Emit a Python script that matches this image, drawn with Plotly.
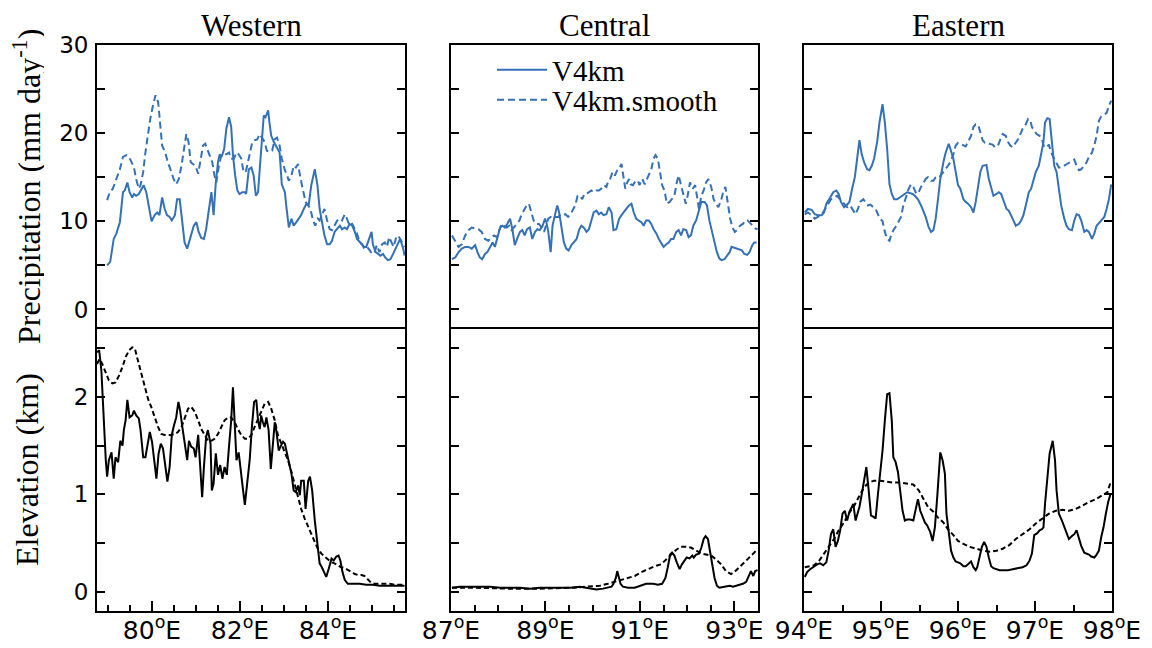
import numpy as np
import plotly.graph_objects as go

# ---------------- data: precipitation (mm/day) ----------------
W_PR_LON = [78.98, 79.05, 79.13, 79.19, 79.27, 79.34, 79.38, 79.44, 79.49, 79.55, 79.59, 79.64, 79.70, 79.76, 79.81, 79.87, 79.93, 79.99, 80.06, 80.12, 80.17, 80.23, 80.29, 80.34, 80.40, 80.45, 80.52, 80.57, 80.63, 80.69, 80.74, 80.80, 80.86, 80.91, 80.95, 81.01, 81.06, 81.12, 81.18, 81.23, 81.29, 81.35, 81.40, 81.45, 81.50, 81.54, 81.58, 81.64, 81.69, 81.75, 81.80, 81.84, 81.89, 81.94, 81.99, 82.05, 82.11, 82.14, 82.20, 82.26, 82.31, 82.36, 82.41, 82.46, 82.51, 82.54, 82.58, 82.64, 82.67, 82.71, 82.77, 82.81, 82.86, 82.90, 82.95, 83.02, 83.05, 83.11, 83.17, 83.22, 83.28, 83.34, 83.39, 83.45, 83.51, 83.56, 83.62, 83.70, 83.76, 83.81, 83.86, 83.92, 83.98, 84.04, 84.09, 84.15, 84.20, 84.27, 84.32, 84.38, 84.43, 84.49, 84.55, 84.61, 84.66, 84.72, 84.77, 84.82, 84.87, 84.92, 84.99, 85.02, 85.08, 85.14, 85.19, 85.25, 85.30, 85.36, 85.42, 85.48, 85.54, 85.59, 85.64, 85.71, 85.74]
W_PR = [5.0, 5.4, 8.0, 8.6, 9.9, 13.3, 13.5, 14.4, 13.3, 12.7, 13.1, 12.9, 13.1, 13.7, 14.1, 13.3, 11.8, 10.0, 10.7, 11.0, 10.7, 12.7, 11.4, 10.7, 10.5, 10.1, 10.7, 12.5, 12.5, 10.1, 7.6, 6.9, 8.0, 9.0, 9.5, 9.9, 8.8, 8.1, 8.0, 9.1, 11.4, 13.3, 10.7, 14.4, 16.7, 17.6, 17.3, 18.2, 20.5, 21.8, 20.7, 17.5, 15.2, 13.5, 13.1, 13.3, 13.3, 13.1, 15.9, 16.1, 15.2, 12.9, 13.3, 16.3, 19.7, 22.0, 21.8, 22.6, 21.2, 19.7, 19.0, 18.6, 18.2, 17.8, 14.2, 13.3, 11.8, 9.3, 10.3, 9.5, 9.9, 10.3, 10.7, 11.4, 12.0, 11.8, 14.1, 15.9, 14.1, 11.4, 9.9, 8.4, 7.4, 7.4, 7.8, 8.8, 9.1, 9.5, 9.1, 9.3, 9.1, 9.7, 9.5, 8.8, 8.0, 7.6, 7.4, 7.1, 7.1, 7.8, 8.8, 7.4, 6.5, 6.3, 6.1, 6.3, 5.9, 5.6, 5.7, 6.3, 6.9, 7.4, 8.0, 6.9, 6.1]
W_PRS_LON = [78.98, 79.04, 79.11, 79.19, 79.27, 79.34, 79.42, 79.48, 79.53, 79.59, 79.64, 79.70, 79.74, 79.80, 79.85, 79.91, 79.96, 80.02, 80.08, 80.14, 80.19, 80.23, 80.30, 80.36, 80.44, 80.49, 80.55, 80.61, 80.67, 80.72, 80.78, 80.83, 80.88, 80.93, 80.99, 81.05, 81.10, 81.16, 81.21, 81.27, 81.33, 81.37, 81.42, 81.46, 81.52, 81.58, 81.63, 81.69, 81.75, 81.80, 81.86, 81.92, 81.97, 82.03, 82.08, 82.13, 82.18, 82.23, 82.28, 82.33, 82.39, 82.45, 82.50, 82.56, 82.61, 82.67, 82.73, 82.79, 82.84, 82.90, 82.95, 83.02, 83.07, 83.11, 83.17, 83.22, 83.27, 83.32, 83.37, 83.43, 83.49, 83.55, 83.60, 83.66, 83.71, 83.77, 83.81, 83.86, 83.92, 83.98, 84.04, 84.09, 84.15, 84.21, 84.27, 84.32, 84.38, 84.43, 84.49, 84.55, 84.61, 84.66, 84.72, 84.77, 84.83, 84.89, 84.95, 85.00, 85.06, 85.11, 85.17, 85.23, 85.29, 85.34, 85.39, 85.44, 85.49, 85.55, 85.59, 85.64, 85.71, 85.74]
W_PRS = [12.4, 13.3, 13.7, 14.8, 15.9, 17.3, 17.5, 17.3, 16.7, 16.1, 14.8, 13.7, 14.1, 15.6, 17.8, 20.1, 21.6, 23.1, 24.3, 23.5, 21.2, 18.6, 17.8, 16.7, 15.6, 14.8, 14.2, 14.8, 16.3, 18.2, 19.9, 19.0, 16.7, 16.5, 16.3, 15.4, 16.7, 18.6, 18.8, 18.0, 17.1, 16.7, 15.2, 14.4, 16.3, 17.6, 17.6, 17.6, 17.8, 17.1, 17.1, 17.8, 17.6, 17.1, 15.6, 15.6, 16.7, 17.8, 19.0, 19.2, 19.3, 19.9, 19.5, 19.0, 18.0, 17.9, 18.0, 19.3, 19.5, 18.6, 17.1, 15.8, 15.2, 14.6, 15.2, 16.3, 16.1, 16.5, 15.0, 13.5, 12.2, 11.8, 11.4, 10.1, 9.5, 10.3, 10.1, 10.7, 11.4, 10.1, 9.1, 9.0, 9.5, 10.1, 10.3, 10.1, 10.8, 10.3, 9.5, 9.7, 9.1, 8.6, 7.6, 7.4, 6.9, 7.1, 6.7, 6.3, 6.5, 7.3, 6.5, 7.4, 7.6, 7.1, 8.2, 7.6, 7.1, 8.2, 8.4, 8.0, 7.4, 7.1]

C_PR_LON = [87.02, 87.09, 87.16, 87.23, 87.30, 87.37, 87.44, 87.51, 87.56, 87.61, 87.66, 87.72, 87.77, 87.83, 87.88, 87.93, 87.98, 88.04, 88.09, 88.14, 88.19, 88.25, 88.30, 88.35, 88.40, 88.46, 88.51, 88.56, 88.61, 88.67, 88.72, 88.78, 88.83, 88.88, 88.94, 88.99, 89.02, 89.06, 89.11, 89.15, 89.20, 89.25, 89.29, 89.34, 89.39, 89.44, 89.49, 89.55, 89.60, 89.66, 89.71, 89.76, 89.81, 89.87, 89.92, 89.97, 90.02, 90.08, 90.13, 90.18, 90.23, 90.29, 90.34, 90.40, 90.44, 90.50, 90.56, 90.61, 90.66, 90.71, 90.77, 90.82, 90.87, 90.92, 90.97, 91.03, 91.08, 91.13, 91.19, 91.24, 91.29, 91.35, 91.40, 91.45, 91.50, 91.56, 91.61, 91.66, 91.71, 91.77, 91.82, 91.87, 91.92, 91.98, 92.03, 92.08, 92.13, 92.19, 92.25, 92.30, 92.37, 92.42, 92.47, 92.53, 92.58, 92.63, 92.68, 92.73, 92.79, 92.84, 92.90, 92.94, 93.00, 93.05, 93.10, 93.16, 93.21, 93.27, 93.32, 93.38, 93.42, 93.47]
C_PR = [5.7, 5.9, 6.5, 6.9, 7.1, 7.1, 6.9, 7.3, 6.5, 5.9, 5.7, 6.3, 6.5, 7.1, 7.6, 7.1, 8.0, 9.3, 9.5, 9.3, 9.7, 10.3, 9.1, 7.3, 8.0, 8.8, 9.0, 8.4, 9.1, 9.3, 8.0, 8.8, 9.1, 9.0, 9.5, 10.3, 9.9, 8.8, 6.5, 9.5, 10.7, 11.8, 11.0, 9.0, 7.6, 6.9, 6.7, 7.3, 7.6, 8.0, 9.0, 9.5, 9.3, 8.8, 9.1, 10.1, 11.0, 11.2, 10.8, 11.0, 10.7, 10.8, 11.6, 11.0, 9.0, 9.1, 10.3, 10.7, 11.0, 11.4, 11.8, 12.0, 11.0, 10.3, 10.1, 9.9, 9.5, 10.1, 10.1, 9.7, 9.1, 8.6, 8.0, 7.6, 7.1, 7.4, 7.6, 8.0, 8.0, 8.8, 9.0, 8.4, 9.1, 9.0, 8.2, 8.4, 9.5, 10.1, 11.4, 12.2, 12.2, 11.8, 10.1, 8.8, 7.6, 6.5, 5.8, 5.6, 5.7, 6.1, 6.5, 7.1, 7.0, 6.9, 6.8, 6.7, 6.3, 6.2, 6.5, 7.3, 7.6, 7.6]
C_PRS_LON = [87.02, 87.09, 87.16, 87.23, 87.30, 87.37, 87.44, 87.51, 87.58, 87.65, 87.72, 87.79, 87.86, 87.91, 87.97, 88.02, 88.07, 88.12, 88.18, 88.23, 88.28, 88.33, 88.39, 88.45, 88.49, 88.54, 88.60, 88.65, 88.71, 88.75, 88.81, 88.86, 88.92, 88.97, 89.01, 89.06, 89.11, 89.16, 89.21, 89.27, 89.32, 89.37, 89.42, 89.48, 89.53, 89.59, 89.63, 89.68, 89.73, 89.78, 89.82, 89.87, 89.92, 89.97, 90.02, 90.08, 90.13, 90.18, 90.23, 90.29, 90.32, 90.37, 90.42, 90.47, 90.52, 90.57, 90.61, 90.64, 90.69, 90.73, 90.77, 90.80, 90.85, 90.91, 90.96, 90.99, 91.05, 91.10, 91.15, 91.19, 91.24, 91.29, 91.33, 91.38, 91.43, 91.47, 91.52, 91.57, 91.63, 91.68, 91.73, 91.78, 91.82, 91.87, 91.92, 91.97, 92.01, 92.06, 92.12, 92.17, 92.20, 92.25, 92.30, 92.35, 92.40, 92.45, 92.51, 92.56, 92.61, 92.66, 92.72, 92.77, 92.81, 92.86, 92.91, 92.96, 93.01, 93.07, 93.12, 93.18, 93.23, 93.28, 93.33, 93.39, 93.44, 93.49]
C_PRS = [8.4, 7.8, 7.1, 7.4, 8.4, 9.0, 9.3, 9.2, 9.1, 8.8, 8.0, 7.8, 8.1, 8.4, 8.2, 9.1, 9.7, 9.5, 9.3, 9.5, 9.0, 9.3, 9.7, 10.1, 10.7, 11.2, 11.8, 12.0, 11.0, 10.1, 9.7, 9.7, 9.3, 8.8, 9.5, 10.3, 10.5, 10.3, 10.5, 10.5, 10.8, 10.7, 10.8, 10.5, 10.8, 11.4, 11.8, 12.9, 12.9, 12.5, 13.1, 13.1, 13.3, 13.5, 13.3, 13.5, 13.5, 13.7, 14.1, 13.9, 14.4, 14.8, 15.6, 15.2, 15.8, 16.1, 16.5, 15.2, 13.7, 14.4, 14.8, 14.2, 14.1, 14.6, 14.6, 14.1, 14.8, 14.2, 14.8, 15.2, 15.9, 17.1, 17.5, 17.1, 15.6, 14.1, 13.5, 12.0, 12.2, 12.5, 12.9, 14.4, 15.2, 14.1, 12.9, 12.0, 12.9, 14.4, 13.7, 14.1, 13.1, 11.4, 12.9, 13.5, 14.4, 14.8, 13.9, 12.5, 12.0, 11.6, 12.4, 13.5, 13.9, 12.2, 10.3, 9.3, 8.8, 9.1, 9.5, 9.7, 10.1, 10.1, 9.8, 9.5, 9.2, 9.1]

E_PR_LON = [94.01, 94.05, 94.10, 94.14, 94.18, 94.23, 94.26, 94.29, 94.34, 94.38, 94.42, 94.45, 94.48, 94.52, 94.55, 94.59, 94.63, 94.66, 94.69, 94.72, 94.75, 94.78, 94.82, 94.85, 94.88, 94.91, 94.95, 94.98, 95.02, 95.05, 95.08, 95.11, 95.14, 95.17, 95.21, 95.24, 95.27, 95.30, 95.34, 95.38, 95.41, 95.44, 95.48, 95.52, 95.55, 95.58, 95.62, 95.65, 95.68, 95.71, 95.74, 95.77, 95.81, 95.84, 95.88, 95.90, 95.94, 95.97, 96.00, 96.03, 96.07, 96.10, 96.13, 96.17, 96.20, 96.23, 96.26, 96.29, 96.32, 96.37, 96.40, 96.43, 96.46, 96.50, 96.53, 96.56, 96.59, 96.63, 96.66, 96.69, 96.72, 96.75, 96.79, 96.82, 96.85, 96.88, 96.92, 96.95, 96.98, 97.01, 97.05, 97.08, 97.11, 97.13, 97.16, 97.19, 97.22, 97.25, 97.28, 97.31, 97.34, 97.38, 97.41, 97.44, 97.48, 97.51, 97.54, 97.57, 97.60, 97.64, 97.67, 97.70, 97.74, 97.77, 97.80, 97.83, 97.86, 97.90, 97.93, 97.96, 97.99]
E_PR = [11.0, 11.4, 11.3, 10.8, 10.7, 10.7, 11.0, 12.0, 12.7, 13.3, 13.5, 13.1, 12.2, 11.6, 11.8, 12.2, 13.9, 15.0, 17.1, 19.2, 17.6, 16.7, 15.9, 15.8, 16.3, 17.1, 19.0, 21.2, 23.3, 21.2, 18.2, 14.2, 13.1, 12.5, 12.5, 12.7, 12.9, 13.1, 13.3, 13.2, 13.1, 12.9, 12.5, 11.8, 11.2, 10.5, 9.3, 8.8, 9.0, 10.3, 12.5, 14.8, 16.7, 17.8, 18.8, 18.2, 17.1, 15.6, 14.1, 13.7, 12.5, 12.2, 12.0, 11.6, 11.0, 12.2, 14.1, 15.6, 16.3, 16.4, 14.8, 13.7, 12.9, 13.1, 13.3, 13.1, 12.4, 11.4, 11.2, 10.7, 10.1, 9.5, 9.7, 10.1, 10.7, 11.8, 13.3, 13.7, 14.6, 15.6, 16.3, 17.5, 19.0, 21.2, 21.7, 21.6, 19.0, 16.3, 15.6, 13.7, 11.8, 10.3, 9.5, 9.1, 9.0, 10.1, 10.8, 10.7, 10.1, 8.8, 9.0, 8.8, 8.0, 8.6, 9.5, 9.8, 10.1, 10.5, 11.4, 12.5, 14.2]
E_PRS_LON = [94.01, 94.05, 94.10, 94.14, 94.18, 94.23, 94.26, 94.30, 94.35, 94.39, 94.43, 94.47, 94.50, 94.53, 94.56, 94.60, 94.63, 94.67, 94.70, 94.73, 94.77, 94.80, 94.83, 94.86, 94.90, 94.93, 94.96, 94.99, 95.02, 95.05, 95.08, 95.11, 95.13, 95.16, 95.20, 95.23, 95.26, 95.29, 95.32, 95.36, 95.39, 95.42, 95.46, 95.49, 95.52, 95.55, 95.58, 95.61, 95.65, 95.68, 95.71, 95.74, 95.77, 95.81, 95.84, 95.87, 95.90, 95.94, 95.97, 96.00, 96.03, 96.07, 96.10, 96.13, 96.17, 96.20, 96.23, 96.26, 96.29, 96.32, 96.35, 96.39, 96.42, 96.45, 96.48, 96.52, 96.55, 96.58, 96.62, 96.65, 96.68, 96.71, 96.74, 96.78, 96.81, 96.84, 96.88, 96.91, 96.94, 96.96, 96.99, 97.02, 97.06, 97.09, 97.12, 97.15, 97.18, 97.21, 97.25, 97.28, 97.31, 97.34, 97.38, 97.41, 97.44, 97.48, 97.51, 97.54, 97.57, 97.60, 97.64, 97.67, 97.70, 97.74, 97.77, 97.80, 97.83, 97.86, 97.90, 97.93, 97.96, 97.99]
E_PRS = [10.8, 11.0, 10.7, 10.3, 10.5, 10.8, 11.2, 11.8, 12.5, 12.7, 12.9, 12.5, 12.2, 11.8, 11.6, 11.8, 11.4, 10.8, 11.4, 12.2, 12.5, 12.2, 11.8, 11.9, 11.6, 11.4, 10.8, 10.3, 10.0, 8.8, 8.0, 7.8, 8.4, 9.0, 9.5, 10.1, 10.5, 11.8, 12.7, 13.7, 14.2, 13.9, 13.1, 13.3, 13.9, 14.4, 14.8, 15.0, 14.6, 14.6, 15.0, 15.2, 15.1, 15.6, 15.9, 16.3, 16.7, 17.6, 18.6, 18.9, 18.8, 18.6, 18.5, 19.0, 19.7, 20.7, 21.0, 21.0, 20.1, 19.2, 18.9, 18.8, 18.8, 18.7, 18.4, 18.6, 19.3, 19.9, 19.7, 19.0, 18.6, 18.4, 18.8, 19.3, 19.9, 20.5, 21.0, 21.6, 21.4, 20.7, 20.3, 19.9, 19.7, 19.3, 18.4, 18.4, 18.7, 17.8, 17.1, 16.5, 16.1, 16.1, 16.3, 16.5, 16.6, 16.8, 17.0, 16.3, 15.8, 15.9, 16.3, 16.7, 17.3, 17.8, 18.6, 19.7, 21.4, 21.9, 22.1, 22.3, 23.1, 23.7]

# ---------------- data: elevation (km) ----------------
W_EL_LON = [78.75, 78.80, 78.85, 78.90, 78.95, 78.98, 79.02, 79.08, 79.13, 79.17, 79.23, 79.28, 79.33, 79.36, 79.40, 79.44, 79.49, 79.55, 79.59, 79.64, 79.70, 79.74, 79.80, 79.85, 79.89, 79.95, 80.00, 80.05, 80.10, 80.15, 80.20, 80.25, 80.30, 80.35, 80.40, 80.45, 80.50, 80.55, 80.60, 80.64, 80.69, 80.74, 80.80, 80.84, 80.89, 80.95, 80.99, 81.05, 81.08, 81.14, 81.18, 81.23, 81.27, 81.33, 81.36, 81.40, 81.45, 81.50, 81.55, 81.60, 81.65, 81.70, 81.75, 81.80, 81.84, 81.88, 81.92, 81.97, 82.02, 82.07, 82.11, 82.17, 82.22, 82.27, 82.32, 82.37, 82.41, 82.45, 82.48, 82.52, 82.56, 82.60, 82.65, 82.70, 82.75, 82.79, 82.83, 82.88, 82.92, 82.98, 83.02, 83.07, 83.11, 83.17, 83.22, 83.27, 83.32, 83.36, 83.39, 83.45, 83.49, 83.55, 83.59, 83.64, 83.70, 83.75, 83.81, 83.86, 83.91, 83.96, 84.02, 84.08, 84.13, 84.19, 84.24, 84.28, 84.33, 84.38, 84.45, 84.57, 84.72, 84.87, 85.02, 85.17, 85.33, 85.48, 85.63, 85.74]
W_EL = [2.46, 2.48, 2.27, 1.76, 1.35, 1.18, 1.35, 1.43, 1.16, 1.38, 1.33, 1.55, 1.50, 1.66, 1.76, 1.97, 1.79, 1.81, 1.86, 1.81, 1.78, 1.66, 1.38, 1.38, 1.49, 1.64, 1.54, 1.32, 1.16, 1.42, 1.52, 1.47, 1.32, 1.13, 1.28, 1.61, 1.71, 1.79, 1.95, 1.86, 1.69, 1.52, 1.35, 1.55, 1.49, 1.47, 1.38, 1.61, 1.42, 0.97, 1.28, 1.59, 1.66, 1.52, 1.04, 1.11, 1.42, 1.20, 1.30, 1.16, 1.28, 1.20, 1.49, 1.76, 2.10, 1.76, 1.35, 1.43, 1.21, 1.04, 0.89, 1.11, 1.35, 1.69, 1.95, 1.97, 1.76, 1.67, 1.81, 1.74, 1.69, 1.79, 1.66, 1.26, 1.52, 1.74, 1.64, 1.45, 1.49, 1.54, 1.52, 1.42, 1.33, 1.21, 1.04, 1.02, 1.09, 0.99, 1.14, 1.14, 0.85, 1.14, 1.18, 1.04, 0.73, 0.53, 0.29, 0.25, 0.20, 0.15, 0.24, 0.34, 0.32, 0.36, 0.37, 0.32, 0.20, 0.12, 0.08, 0.08, 0.08, 0.07, 0.07, 0.06, 0.06, 0.06, 0.06, 0.06]
W_ELS_LON = [78.75, 78.81, 78.87, 78.95, 79.02, 79.10, 79.17, 79.25, 79.33, 79.40, 79.48, 79.55, 79.61, 79.66, 79.72, 79.78, 79.84, 79.91, 79.98, 80.06, 80.14, 80.21, 80.29, 80.36, 80.44, 80.52, 80.59, 80.67, 80.74, 80.82, 80.89, 80.97, 81.05, 81.12, 81.20, 81.27, 81.35, 81.42, 81.50, 81.58, 81.65, 81.73, 81.80, 81.88, 81.95, 82.03, 82.11, 82.18, 82.26, 82.33, 82.41, 82.48, 82.56, 82.64, 82.71, 82.79, 82.86, 82.94, 83.02, 83.09, 83.17, 83.24, 83.32, 83.39, 83.47, 83.55, 83.62, 83.70, 83.77, 83.85, 83.92, 84.00, 84.08, 84.15, 84.23, 84.30, 84.38, 84.45, 84.53, 84.61, 84.68, 84.76, 84.83, 84.91, 84.98, 85.06, 85.17, 85.29, 85.40, 85.52, 85.63, 85.74]
W_ELS = [2.34, 2.39, 2.34, 2.24, 2.17, 2.14, 2.15, 2.22, 2.31, 2.41, 2.48, 2.51, 2.50, 2.41, 2.31, 2.21, 2.10, 1.98, 1.90, 1.79, 1.69, 1.62, 1.61, 1.61, 1.61, 1.62, 1.64, 1.69, 1.79, 1.88, 1.90, 1.85, 1.76, 1.67, 1.61, 1.55, 1.55, 1.57, 1.62, 1.69, 1.76, 1.79, 1.79, 1.74, 1.67, 1.61, 1.57, 1.57, 1.61, 1.69, 1.78, 1.86, 1.93, 1.95, 1.88, 1.76, 1.61, 1.52, 1.43, 1.35, 1.23, 1.11, 0.97, 0.85, 0.75, 0.66, 0.58, 0.51, 0.44, 0.39, 0.36, 0.33, 0.30, 0.29, 0.27, 0.25, 0.24, 0.22, 0.20, 0.18, 0.17, 0.17, 0.16, 0.12, 0.09, 0.08, 0.08, 0.08, 0.08, 0.07, 0.07, 0.07]

C_EL_LON = [87.02, 87.19, 87.40, 87.61, 87.83, 88.04, 88.25, 88.46, 88.67, 88.88, 89.09, 89.30, 89.52, 89.73, 89.94, 90.08, 90.22, 90.32, 90.40, 90.44, 90.49, 90.52, 90.55, 90.59, 90.64, 90.75, 90.89, 90.99, 91.13, 91.28, 91.38, 91.47, 91.54, 91.59, 91.64, 91.68, 91.73, 91.78, 91.84, 91.89, 91.94, 91.99, 92.05, 92.11, 92.14, 92.19, 92.25, 92.30, 92.35, 92.39, 92.44, 92.49, 92.53, 92.58, 92.63, 92.68, 92.79, 92.90, 92.97, 93.04, 93.11, 93.18, 93.25, 93.30, 93.35, 93.40, 93.44, 93.49]
C_EL = [0.04, 0.05, 0.05, 0.05, 0.05, 0.04, 0.04, 0.04, 0.03, 0.04, 0.04, 0.04, 0.04, 0.05, 0.03, 0.02, 0.03, 0.04, 0.05, 0.08, 0.14, 0.21, 0.14, 0.08, 0.05, 0.04, 0.04, 0.06, 0.08, 0.08, 0.07, 0.08, 0.14, 0.25, 0.38, 0.40, 0.37, 0.30, 0.23, 0.28, 0.32, 0.35, 0.34, 0.37, 0.35, 0.38, 0.39, 0.45, 0.54, 0.57, 0.54, 0.38, 0.28, 0.14, 0.06, 0.04, 0.05, 0.06, 0.05, 0.06, 0.07, 0.08, 0.10, 0.15, 0.21, 0.16, 0.21, 0.22]
C_ELS_LON = [87.02, 87.47, 88.18, 88.88, 89.59, 89.94, 90.15, 90.32, 90.47, 90.61, 90.75, 90.89, 91.03, 91.17, 91.31, 91.45, 91.56, 91.66, 91.77, 91.87, 91.98, 92.09, 92.19, 92.30, 92.40, 92.51, 92.61, 92.72, 92.82, 92.93, 93.00, 93.11, 93.21, 93.32, 93.42, 93.49]
C_ELS = [0.04, 0.04, 0.03, 0.03, 0.04, 0.05, 0.06, 0.08, 0.10, 0.12, 0.14, 0.16, 0.20, 0.23, 0.26, 0.28, 0.33, 0.38, 0.43, 0.46, 0.46, 0.45, 0.42, 0.39, 0.38, 0.37, 0.33, 0.28, 0.21, 0.18, 0.20, 0.25, 0.30, 0.35, 0.40, 0.44]

E_EL_LON = [94.01, 94.04, 94.08, 94.12, 94.17, 94.21, 94.25, 94.29, 94.32, 94.35, 94.38, 94.41, 94.44, 94.47, 94.50, 94.53, 94.56, 94.59, 94.62, 94.64, 94.67, 94.70, 94.72, 94.75, 94.78, 94.81, 94.84, 94.87, 94.90, 94.93, 94.96, 94.99, 95.02, 95.05, 95.08, 95.11, 95.14, 95.16, 95.19, 95.22, 95.25, 95.28, 95.31, 95.34, 95.38, 95.42, 95.46, 95.48, 95.51, 95.54, 95.57, 95.60, 95.64, 95.67, 95.70, 95.73, 95.77, 95.80, 95.83, 95.85, 95.88, 95.91, 95.94, 95.97, 96.00, 96.03, 96.07, 96.10, 96.13, 96.17, 96.20, 96.23, 96.25, 96.28, 96.31, 96.34, 96.37, 96.40, 96.43, 96.46, 96.50, 96.54, 96.58, 96.65, 96.71, 96.78, 96.84, 96.89, 96.93, 96.96, 96.99, 97.03, 97.06, 97.09, 97.11, 97.13, 97.16, 97.19, 97.23, 97.26, 97.28, 97.31, 97.35, 97.38, 97.41, 97.44, 97.48, 97.51, 97.54, 97.57, 97.60, 97.64, 97.67, 97.70, 97.73, 97.77, 97.80, 97.83, 97.86, 97.89, 97.92, 97.95, 97.98]
E_EL = [0.15, 0.20, 0.23, 0.25, 0.28, 0.29, 0.27, 0.30, 0.42, 0.59, 0.64, 0.46, 0.52, 0.63, 0.80, 0.83, 0.73, 0.82, 0.88, 0.90, 0.73, 0.80, 0.87, 1.00, 1.14, 1.28, 1.04, 0.78, 0.77, 0.75, 1.00, 1.21, 1.45, 1.76, 2.03, 2.04, 1.76, 1.38, 1.33, 1.23, 1.00, 0.83, 0.73, 0.74, 0.74, 0.73, 0.88, 0.95, 0.83, 0.76, 0.71, 0.68, 0.61, 0.52, 0.66, 0.97, 1.43, 1.35, 1.21, 0.80, 0.59, 0.42, 0.35, 0.31, 0.30, 0.29, 0.26, 0.26, 0.28, 0.31, 0.25, 0.22, 0.25, 0.34, 0.46, 0.51, 0.46, 0.35, 0.26, 0.24, 0.23, 0.22, 0.22, 0.22, 0.23, 0.24, 0.25, 0.27, 0.32, 0.39, 0.58, 0.60, 0.63, 0.64, 0.66, 0.90, 1.18, 1.42, 1.55, 1.35, 1.04, 0.80, 0.73, 0.66, 0.59, 0.54, 0.57, 0.59, 0.63, 0.54, 0.47, 0.40, 0.39, 0.38, 0.36, 0.35, 0.38, 0.42, 0.56, 0.66, 0.80, 0.92, 1.00]
E_ELS_LON = [94.01, 94.07, 94.13, 94.20, 94.26, 94.32, 94.39, 94.45, 94.52, 94.58, 94.65, 94.71, 94.78, 94.84, 94.91, 94.99, 95.08, 95.16, 95.25, 95.34, 95.42, 95.49, 95.55, 95.61, 95.68, 95.74, 95.81, 95.87, 95.94, 96.00, 96.07, 96.15, 96.24, 96.32, 96.41, 96.50, 96.58, 96.67, 96.75, 96.84, 96.93, 97.01, 97.10, 97.18, 97.27, 97.36, 97.44, 97.53, 97.61, 97.70, 97.79, 97.87, 97.94, 97.98]
E_ELS = [0.25, 0.26, 0.27, 0.32, 0.39, 0.46, 0.54, 0.63, 0.71, 0.80, 0.88, 0.97, 1.07, 1.12, 1.14, 1.14, 1.13, 1.12, 1.12, 1.11, 1.10, 1.04, 0.95, 0.87, 0.82, 0.76, 0.71, 0.64, 0.58, 0.52, 0.49, 0.46, 0.44, 0.42, 0.41, 0.42, 0.44, 0.48, 0.54, 0.59, 0.64, 0.70, 0.75, 0.80, 0.83, 0.84, 0.83, 0.85, 0.88, 0.92, 0.95, 0.99, 1.02, 1.12]

# ---------------- axes / labels ----------------
REGIONS = ["Western", "Central", "Eastern"]
X_RANGES = [[78.75, 85.75], [87.0, 93.5], [94.0, 98.0]]
X_MAJOR = [[80, 82, 84], [87, 89, 91, 93], [94, 95, 96, 97, 98]]
PR_MAJOR = [0, 10, 20, 30]
PR_MINOR = [5, 15, 25]
EL_MAJOR = [0, 1, 2]
EL_MINOR = [0.5, 1.5, 2.5]
SERIES_NAMES = ["V4km", "V4km.smooth"]

BLUE = "#3471b7"
SERIF = "Liberation Serif"
SANS = "DejaVu Sans"

# the page body adds an 8px margin: lay out in page pixels, then convert
OFF = 8
FW, FH = 1152 - OFF, 648 - OFF


def fx(px):
    return (px - OFF) / FW


def fy(py):
    return 1 - (py - OFF) / FH


col_px = [(97, 405), (451, 758), (804, 1112)]
col_dom = [[fx(a), fx(b)] for a, b in col_px]
top_dom = [fy(327.1), fy(45)]
bot_dom = [fy(611), fy(328.9)]

prec = [(W_PR_LON, W_PR, W_PRS_LON, W_PRS),
        (C_PR_LON, C_PR, C_PRS_LON, C_PRS),
        (E_PR_LON, E_PR, E_PRS_LON, E_PRS)]
elev = [(W_EL_LON, W_EL, W_ELS_LON, W_ELS),
        (C_EL_LON, C_EL, C_ELS_LON, C_ELS),
        (E_EL_LON, E_EL, E_ELS_LON, E_ELS)]

fig = go.Figure()
layout = {}
for c in range(3):
    xt, yt = ("x" if c == 0 else f"x{c+1}"), ("y" if c == 0 else f"y{c+1}")
    xb, yb = f"x{c+4}", f"y{c+4}"
    lo, v, los, vs = prec[c]
    fig.add_trace(go.Scatter(x=lo, y=v, mode="lines", xaxis=xt, yaxis=yt,
                             line=dict(color=BLUE, width=2), name=SERIES_NAMES[0],
                             showlegend=(c == 1), legend="legend"))
    fig.add_trace(go.Scatter(x=los, y=vs, mode="lines", xaxis=xt, yaxis=yt,
                             line=dict(color=BLUE, width=2, dash="7px,4px"), name=SERIES_NAMES[1],
                             showlegend=(c == 1), legend="legend2"))
    lo, v, los, vs = elev[c]
    fig.add_trace(go.Scatter(x=lo, y=v, mode="lines", xaxis=xb, yaxis=yb,
                             line=dict(color="black", width=2), showlegend=False))
    fig.add_trace(go.Scatter(x=los, y=vs, mode="lines", xaxis=xb, yaxis=yb,
                             line=dict(color="black", width=2, dash="5px,3px"), showlegend=False))

    common = dict(showline=True, linecolor="black", linewidth=1.8, showgrid=False,
                  zeroline=False, tickcolor="black", tickwidth=1.8)
    lo_r, hi_r = X_RANGES[c]
    minor_vals = [float(m) for m in np.arange(np.ceil(lo_r * 2) / 2, hi_r + 0.01, 0.5)
                  if m not in X_MAJOR[c]]
    ax_top_name = "xaxis" if c == 0 else f"xaxis{c+1}"
    ay_top_name = "yaxis" if c == 0 else f"yaxis{c+1}"
    layout[ax_top_name] = dict(common, domain=col_dom[c], range=X_RANGES[c], anchor=yt,
                               mirror=True, ticks="", showticklabels=False)
    layout[f"xaxis{c+4}"] = dict(common, domain=col_dom[c], range=X_RANGES[c], anchor=yb,
                                 mirror=True, ticks="inside", ticklen=10,
                                 tickmode="array", tickvals=X_MAJOR[c],
                                 ticktext=[f"{t}<sup>o</sup>E" for t in X_MAJOR[c]],
                                 tickfont=dict(family=SANS, size=25, color="black"),
                                 ticklabelstandoff=-4,
                                 minor=dict(tickmode="array", tickvals=minor_vals, ticks="inside",
                                            ticklen=6, tickcolor="black", tickwidth=1.5))
    layout[ay_top_name] = dict(common, domain=top_dom, range=[-2, 30], anchor=xt,
                               mirror="ticks", ticks="inside", ticklen=8,
                               tickmode="array", tickvals=PR_MAJOR,
                               ticktext=[str(t) for t in PR_MAJOR],
                               showticklabels=(c == 0), ticklabelstandoff=2,
                               tickfont=dict(family=SANS, size=23, color="black"),
                               minor=dict(tickmode="array", tickvals=PR_MINOR, ticks="inside",
                                          ticklen=8, tickcolor="black", tickwidth=1.8))
    layout[f"yaxis{c+4}"] = dict(common, domain=bot_dom, range=[-0.2, 2.7], anchor=xb,
                                 mirror="ticks", ticks="inside", ticklen=8,
                                 tickmode="array", tickvals=EL_MAJOR,
                                 ticktext=[str(t) for t in EL_MAJOR],
                                 showticklabels=(c == 0), ticklabelstandoff=2,
                                 tickfont=dict(family=SANS, size=23, color="black"),
                                 minor=dict(tickmode="array", tickvals=EL_MINOR, ticks="inside",
                                            ticklen=8, tickcolor="black", tickwidth=1.8))

annotations = []
for c in range(3):
    annotations.append(dict(text=REGIONS[c], x=sum(col_dom[c]) / 2, y=fy(9),
                            xref="paper", yref="paper", showarrow=False,
                            xanchor="center", yanchor="top", height=30, valign="middle",
                            borderpad=0,
                            font=dict(family=SERIF, size=31, color="black")))
annotations.append(dict(text="Precipitation (mm day<sup>-1</sup>)", x=fx(27), y=fy(187),
                        xref="paper", yref="paper", showarrow=False, textangle=-90,
                        xanchor="center", yanchor="middle", height=34, borderpad=0,
                        font=dict(family=SERIF, size=32, color="black")))
annotations.append(dict(text="Elevation (km)", x=fx(27), y=fy(470),
                        xref="paper", yref="paper", showarrow=False, textangle=-90,
                        xanchor="center", yanchor="middle", height=34, borderpad=0,
                        font=dict(family=SERIF, size=32, color="black")))

leg_common = dict(xanchor="left", yanchor="middle", bgcolor="rgba(0,0,0,0)",
                  font=dict(family=SERIF, size=29, color="black"), itemwidth=50)
fig.update_layout(
    **layout,
    annotations=annotations,
    width=FW, height=FH,
    margin=dict(l=0, r=0, t=0, b=0, autoexpand=False),
    plot_bgcolor="white", paper_bgcolor="white",
    legend=dict(leg_common, x=fx(492), y=fy(70)),
    legend2=dict(leg_common, x=fx(492), y=fy(100)),
)

fig.write_html("out.html")
